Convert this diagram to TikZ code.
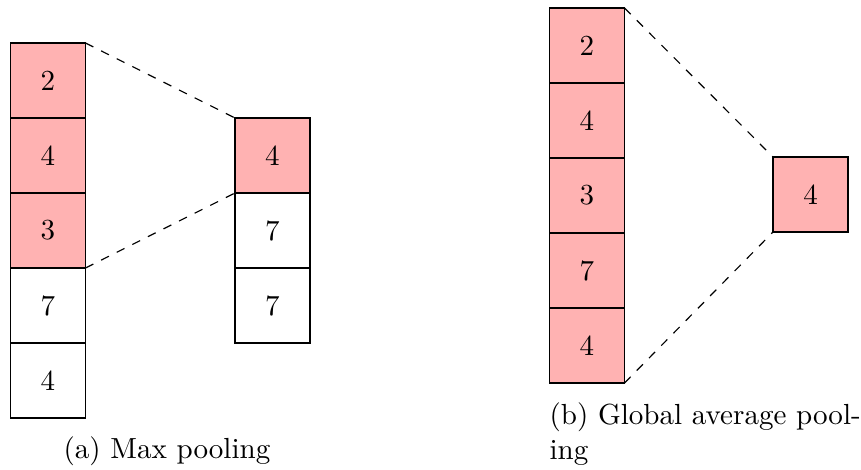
\documentclass[tikz,border=0pt]{standalone}
\begin{document}
\begin{tikzpicture}[x=0.344pt,y=-0.344pt,
  cell/.style={draw=black, semithick, minimum width=25.8pt, minimum height=25.8pt, inner sep=0pt, outer sep=0pt},
  hot/.style={cell, fill=red!30},
  link/.style={dashed, thin},
  captext/.style={anchor=base west, inner sep=0pt}]
\useasboundingbox (0,0) rectangle (861,469);
% (a) max pooling
\node[hot]  (a1) at (48,80.5) {2};
\node[hot]  (a2) at (48,155.5) {4};
\node[hot]  (a3) at (48,230.5) {3};
\node[cell] (a4) at (48,305.5) {7};
\node[cell] (a5) at (48,380.5) {4};
\node[hot]  (m1) at (272.5,155.5) {4};
\node[cell] (m2) at (272.5,230.5) {7};
\node[cell] (m3) at (272.5,305.5) {7};
\draw[link] (a1.north east) -- (m1.north west);
\draw[link] (a3.south east) -- (m1.south west);
\node[captext] (capa) at (63,458) {(a) Max pooling};
% (b) global average pooling
\node[hot] (b1) at (587,45.5) {2};
\node[hot] (b2) at (587,120.5) {4};
\node[hot] (b3) at (587,195.5) {3};
\node[hot] (b4) at (587,270.5) {7};
\node[hot] (b5) at (587,345.5) {4};
\node[hot] (s)  at (810.5,194.5) {4};
\draw[link] (b1.north east) -- (s.north west);
\draw[link] (b5.south east) -- (s.south west);
\node[captext] (capb1) at (549,424) {(b) Global average pool-};
\node[captext] (capb2) at (549,459) {ing};
\end{tikzpicture}
\end{document}
